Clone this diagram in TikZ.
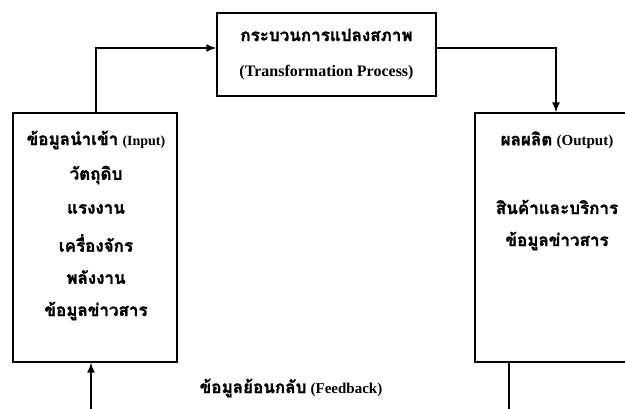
\documentclass[tikz,border=0pt]{standalone}
\usepackage{fontspec}
\setmainfont{Liberation Serif}
\newfontfamily\thaifont[Script=Thai,BoldFeatures={FakeBold=1.5}]{Loma}
\usetikzlibrary{arrows.meta}
\begin{document}
\begin{tikzpicture}[x=1pt,y=-1pt,
  box/.style={draw,line width=1.4pt,inner sep=0pt},
  lbl/.style={font=\bfseries\fontsize{17}{20}\selectfont,inner sep=0pt,align=center},
  lat/.style={font=\bfseries\fontsize{16}{19}\selectfont,inner sep=0pt},
  conn/.style={line width=1.4pt},
  arr/.style={conn,-{Latex[length=10pt,width=8pt]}}]
\useasboundingbox (0,0) rectangle (625,409);
% boxes
\node[box,minimum width=219pt,minimum height=83pt] (proc) at (326.5,54.5) {};
\node[box,minimum width=164pt,minimum height=249pt] (inbox) at (95,237.5) {};
\node[box,minimum width=185pt,minimum height=249pt] (outbox) at (567.5,237.5) {};
% process text
\node[lbl] (p1) at (326.5,35) {\thaifont กระบวนการแปลงสภาพ};
\node[lat] (p2) at (326.5,73) {(Transformation Process)};
% input text
\node[lbl] (i1) at (96,140) {{\thaifont ข้อมูลนำเข้า} {\fontsize{14}{16}\selectfont (Input)}};
\node[lbl] (i2) at (96,175) {\thaifont วัตถุดิบ};
\node[lbl] (i3) at (96,209) {\thaifont แรงงาน};
\node[lbl] (i4) at (96,243) {\thaifont เครื่องจักร};
\node[lbl] (i5) at (96,277) {\thaifont พลังงาน};
\node[lbl] (i6) at (96,311) {\thaifont ข้อมูลข่าวสาร};
% output text
\node[lbl] (o1) at (557,140) {{\thaifont ผลผลิต} {\fontsize{15}{18}\selectfont (Output)}};
\node[lbl] (o2) at (557,207) {\thaifont สินค้าและบริการ};
\node[lbl] (o3) at (557,241) {\thaifont ข้อมูลข่าวสาร};
% feedback label
\node[lbl] (fb) at (291,388) {{\thaifont ข้อมูลย้อนกลับ} {\fontsize{15}{18}\selectfont (Feedback)}};
% connectors
\coordinate (fbr) at (509,430);
\coordinate (fbl) at (91,430);
\draw[arr] ([xshift=1pt]inbox.north) |- ([yshift=6.5pt]proc.west);
\draw[arr] ([yshift=6.5pt]proc.east) -| ([xshift=-11.5pt]outbox.north);
\draw[arr] ([xshift=-58.5pt]outbox.south) -- (fbr) -- (fbl) -- ([xshift=-4pt]inbox.south);
\end{tikzpicture}
\end{document}
